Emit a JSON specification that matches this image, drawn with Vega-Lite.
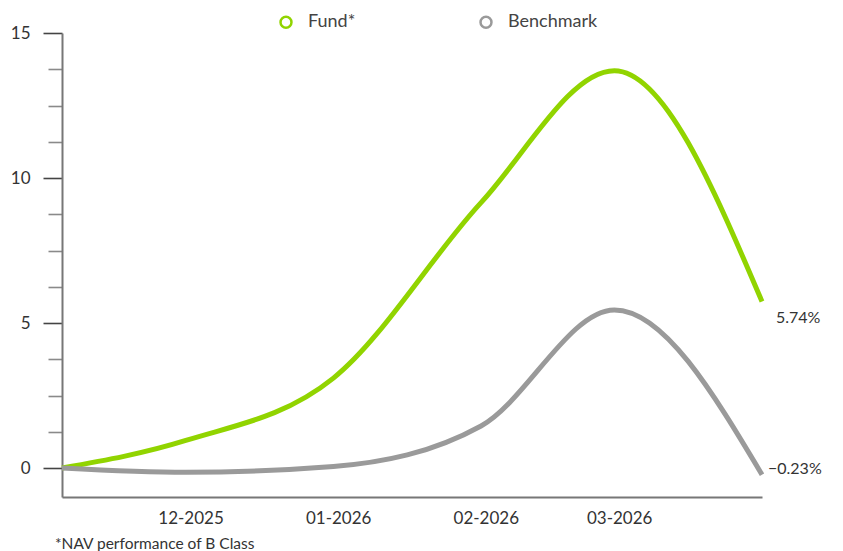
{
  "$schema": "https://vega.github.io/schema/vega-lite/v6.json",
  "autosize": "none",
  "width": 700,
  "height": 464,
  "padding": {"left": 62, "top": 33, "right": 81, "bottom": 54},
  "background": "white",
  "config": {
    "view": {"stroke": null},
    "font": "Lato",
    "text": {"font": "Lato"}
  },
  "title": {
    "text": "*NAV performance of B Class",
    "orient": "bottom",
    "anchor": "start",
    "frame": "group",
    "fontSize": 15.5,
    "fontWeight": "normal",
    "color": "#333333",
    "font": "Lato",
    "dx": -7,
    "offset": 11
  },
  "data": {
    "values": [
      {"date": "2025-11-04", "series": "Fund*", "value": 0},
      {"date": "2025-11-30", "series": "Fund*", "value": 0.95},
      {"date": "2025-12-31", "series": "Fund*", "value": 3.1},
      {"date": "2026-01-31", "series": "Fund*", "value": 9.15},
      {"date": "2026-02-28", "series": "Fund*", "value": 13.7},
      {"date": "2026-03-31", "series": "Fund*", "value": 5.74, "label": "5.74%"},
      {"date": "2025-11-04", "series": "Benchmark", "value": 0},
      {"date": "2025-11-30", "series": "Benchmark", "value": -0.15},
      {"date": "2025-12-31", "series": "Benchmark", "value": 0.05},
      {"date": "2026-01-31", "series": "Benchmark", "value": 1.45},
      {"date": "2026-02-28", "series": "Benchmark", "value": 5.45},
      {"date": "2026-03-31", "series": "Benchmark", "value": -0.23, "label": "−0.23%"}
    ]
  },
  "encoding": {
    "x": {
      "field": "date",
      "type": "temporal",
      "scale": {
        "type": "utc",
        "domain": [
          {"year": 2025, "month": 11, "date": 4, "utc": true},
          {"year": 2026, "month": 3, "date": 31, "utc": true}
        ]
      },
      "axis": {
        "title": null,
        "grid": false,
        "ticks": false,
        "values": [
          {"year": 2025, "month": 12, "date": 1, "utc": true},
          {"year": 2026, "month": 1, "date": 1, "utc": true},
          {"year": 2026, "month": 2, "date": 1, "utc": true},
          {"year": 2026, "month": 3, "date": 1, "utc": true}
        ],
        "labelExpr": "utcFormat(datum.value, '%m-%Y')",
        "domainColor": "#777777",
        "domainWidth": 2,
        "labelFontSize": 17,
        "labelColor": "#333333",
        "labelPadding": 13,
        "labelFont": "Lato"
      }
    },
    "y": {
      "field": "value",
      "type": "quantitative",
      "scale": {"domain": [-1, 15], "nice": false, "zero": false},
      "axis": {
        "title": null,
        "grid": false,
        "values": [0, 1.25, 2.5, 3.75, 5, 6.25, 7.5, 8.75, 10, 11.25, 12.5, 13.75, 15],
        "format": "d",
        "labelExpr": "datum.value % 5 === 0 ? datum.label : ''",
        "tickSize": {"condition": {"test": "datum.value % 5 === 0", "value": 19}, "value": 14},
        "tickColor": {"condition": {"test": "datum.value % 5 === 0", "value": "#444444"}, "value": "#8a8a8a"},
        "tickWidth": 1.6,
        "domainColor": "#777777",
        "domainWidth": 2,
        "labelFontSize": 17,
        "labelColor": "#333333",
        "labelPadding": 13,
        "labelFont": "Lato"
      }
    }
  },
  "layer": [
    {
      "mark": {"type": "line", "interpolate": "monotone", "strokeWidth": 5, "strokeCap": "butt"},
      "encoding": {
        "color": {
          "field": "series",
          "type": "nominal",
          "scale": {"domain": ["Fund*", "Benchmark"], "range": ["#91d400", "#9a9a9a"]},
          "legend": {
            "title": null,
            "orient": "none",
            "direction": "horizontal",
            "legendX": 215,
            "legendY": -20,
            "symbolType": "circle",
            "symbolSize": 120,
            "symbolStrokeWidth": 2.5,
            "symbolFillColor": "white",
            "labelFontSize": 18,
            "labelColor": "#444444",
            "labelFont": "Lato",
            "labelOffset": 13,
            "columnPadding": 119
          }
        }
      }
    },
    {
      "transform": [{"filter": "datum.series === 'Fund*' && datum.label"}],
      "mark": {"type": "text", "align": "left", "baseline": "middle", "dx": 14, "dy": 16, "fontSize": 16, "color": "#333333", "font": "Lato"},
      "encoding": {"text": {"field": "label"}}
    },
    {
      "transform": [{"filter": "datum.series === 'Benchmark' && datum.label"}],
      "mark": {"type": "text", "align": "left", "baseline": "middle", "dx": 6, "dy": -6, "fontSize": 16, "color": "#333333", "font": "Lato"},
      "encoding": {"text": {"field": "label"}}
    }
  ]
}
